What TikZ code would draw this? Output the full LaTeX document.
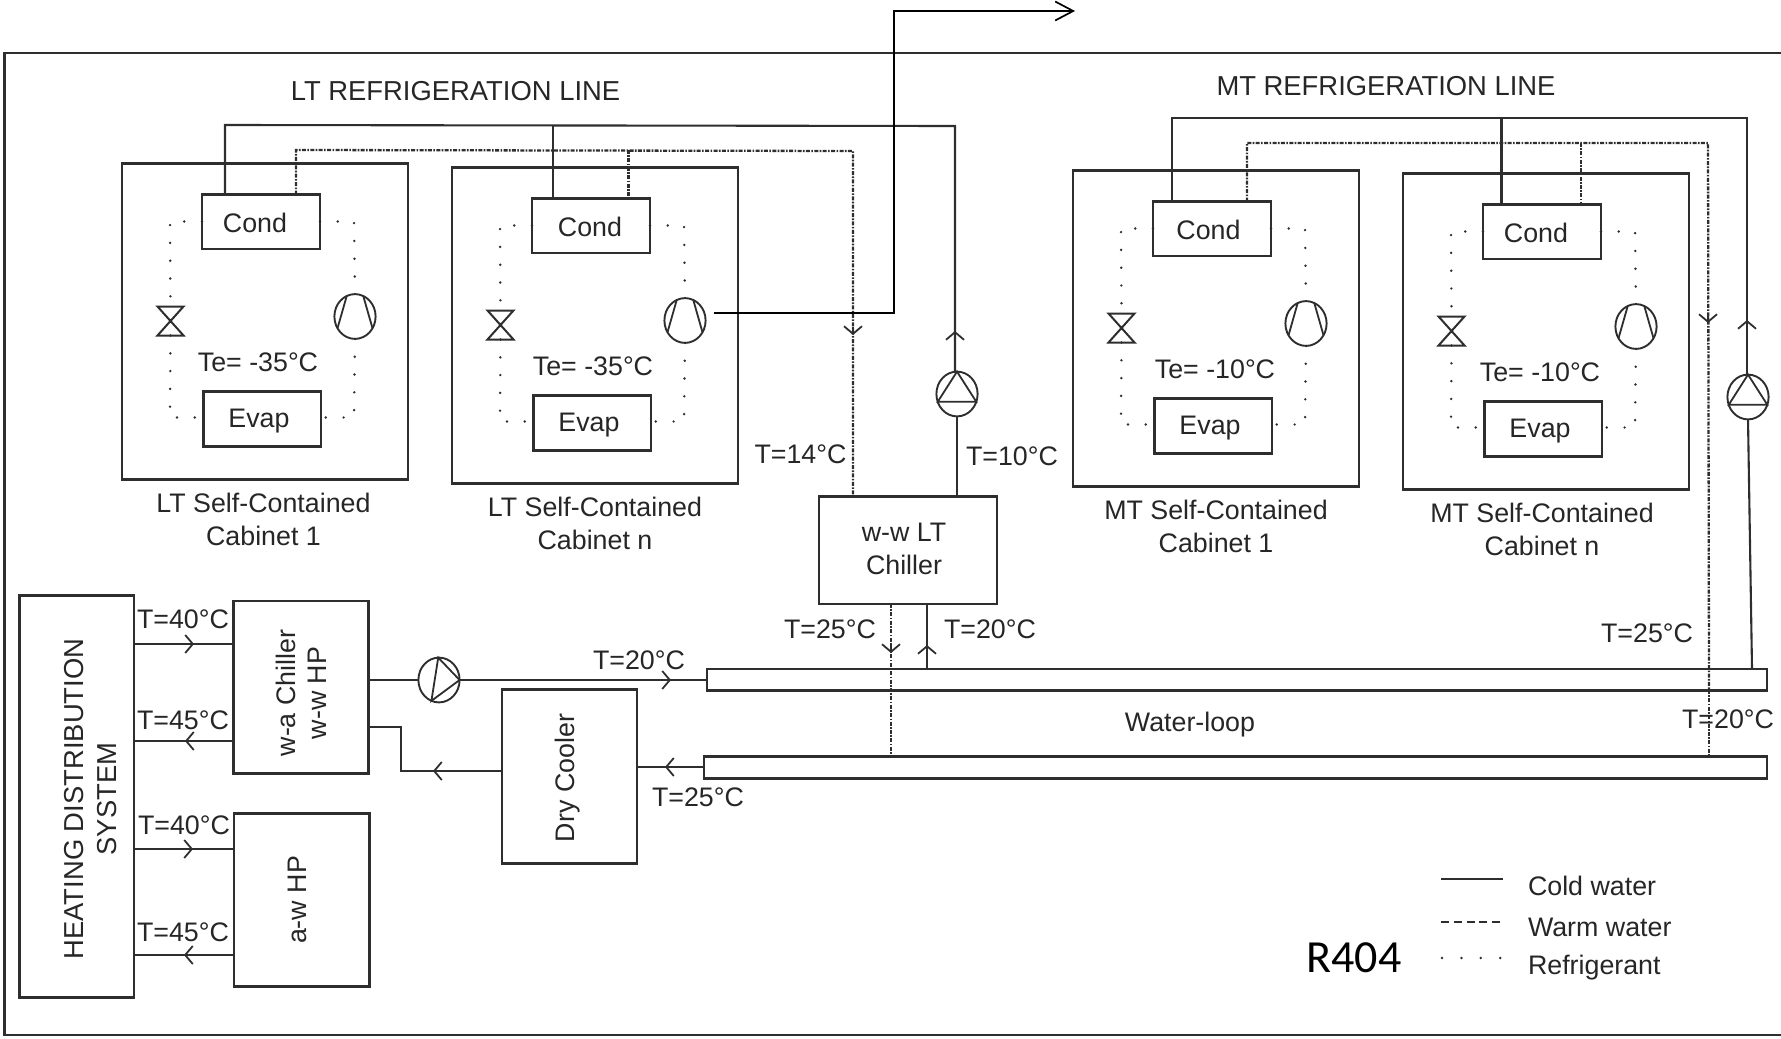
\documentclass[tikz,border=0pt]{standalone}
\usepackage{fontspec}
\setmainfont{Liberation Sans}
\newfontfamily\rfont{Carlito}
\usetikzlibrary{arrows.meta,calc,shapes.geometric}
\definecolor{ink}{HTML}{2E2E2E}
\definecolor{txt}{HTML}{262626}
\tikzset{
  boxst/.style={draw=ink,line width=1.15pt,inner sep=0pt,outer sep=0pt,fill=none},
  symb/.style={ellipse,draw=ink,line width=0.95pt,inner sep=0pt,outer sep=0pt,minimum width=20.6pt,minimum height=22.4pt},
  hold/.style={rectangle,inner sep=0pt,outer sep=0pt,minimum width=13pt,minimum height=14.5pt},
  lbl/.style={inner sep=0pt,outer sep=0pt,text=txt,align=center,yshift=-0.5pt,font=\fontsize{13.4}{16.7}\selectfont},
  bigl/.style={lbl,font=\fontsize{13.7}{16.7}\selectfont},
  pipe/.style={draw=ink,line width=1.05pt,line join=miter},
  warm/.style={draw=ink,line width=1.15pt,dash pattern=on 2pt off 0.7pt on 0.8pt off 0.7pt},
  refr/.style={draw=ink,line width=1.35pt,line cap=round,dash pattern=on 0pt off 8.9pt},
  chev/.style={-{Straight Barb[length=3.8pt,width=9pt,line width=0.9pt]}},
  frameline/.style={draw=ink,line width=1.4pt},
  outline/.style={draw=black,line width=0.95pt,-{Straight Barb[length=9pt,width=9.5pt,line width=0.85pt]}}
}
\newcommand\pxbox[5]{%
  \pgfmathsetmacro\bwid{(#4-#2)*0.5}\pgfmathsetmacro\bhei{(#5-#3)*0.5}%
  \node[boxst,minimum width=\bwid pt,minimum height=\bhei pt] (#1) at ({(#2+#4)/2},{(#3+#5)/2}) {};}
% prefix, x, y, Te text, caption, Cond text dx, Te dx, caption dx
\newcommand\cabinetunit[8]{%
\begin{scope}[shift={(#2,#3)}]
  \pxbox{#1cab}{0}{0}{286}{316}
  \pxbox{#1cond}{80}{31}{198}{85.5}
  \pxbox{#1evap}{81.5}{228}{199}{283}
  \node[lbl] (#1condt) at (#6,58) {Cond};
  \node[lbl] (#1evapt) at (137,257) {Evap};
  \node[lbl] (#1tet) at (#7,198) {#4};
  \node[lbl] (#1capt) at (#8,355) {#5};
  \node[symb] (#1comp) at (233,153) {};
  \draw[draw=ink,line width=0.9pt] (#1comp.112) -- (#1comp.214) (#1comp.68) -- (#1comp.-34);
  \node[hold] (#1valve) at (48.5,157.5) {};
  \draw[draw=ink,line width=1pt,line join=miter] (#1valve.north west) -- (#1valve.north east) -- (#1valve.south west) -- (#1valve.south east) -- cycle;
  \draw[refr] (#1cond.west |- 0,58) -- (48,58) -- (#1valve.north);
  \draw[refr] (#1valve.south) -- (48,254) -- (#1evap.west |- 0,254);
  \draw[refr] (#1cond.east |- 0,58) -- (232,58) -- (#1comp.north);
  \draw[refr] (#1comp.south) -- (232,254) -- (#1evap.east |- 0,254);
\end{scope}}
\begin{document}
\begin{tikzpicture}[x=0.5pt,y=-0.5pt]
\useasboundingbox (0,0) rectangle (1781,1038);
% outer frame
\draw[frameline] (1781,53) -- (4.5,53) -- (4.5,1035) -- (1781,1035);
% cabinets
\cabinetunit{la}{122}{163.5}{Te= -35°C}{LT Self-Contained\\Cabinet 1}{133}{136}{141.5}
\cabinetunit{lb}{452}{167.5}{Te= -35°C}{LT Self-Contained\\Cabinet n}{138}{141}{143}
\cabinetunit{ma}{1073}{170.5}{Te= -10°C}{MT Self-Contained\\Cabinet 1}{135.5}{142}{143}
\cabinetunit{mb}{1403}{173.5}{Te= -10°C}{MT Self-Contained\\Cabinet n}{133}{137}{139}
% titles
\node[bigl] (lttitle) at (455.5,90) {LT REFRIGERATION LINE};
\node[bigl] (mttitle) at (1386,85) {MT REFRIGERATION LINE};
% main boxes
\pxbox{chiller}{819}{496.5}{997}{604}
\node[lbl] (chillert) at (904,548) {w-w LT\\Chiller};
\pxbox{hds}{19.5}{595.5}{134}{997.5}
\node[bigl,rotate=90] (hdst) at (90.5,798) {HEATING DISTRIBUTION\\SYSTEM};
\pxbox{hpa}{233.5}{601}{368.5}{773.5}
\node[lbl,rotate=90,font=\fontsize{13.4}{15.3}\selectfont] (hpat) at (301.5,692) {w-a Chiller\\w-w HP};
\pxbox{hpb}{234}{813.5}{369.5}{986.5}
\node[lbl,rotate=90] (hpbt) at (297.5,899) {a-w HP};
\pxbox{dry}{502}{689.5}{637}{863.5}
\node[lbl,rotate=90] (dryt) at (568,777) {Dry Cooler};
\pxbox{loopa}{707}{669}{1767}{690.5}
\pxbox{loopb}{704}{756.5}{1767}{778.5}
\node[lbl] (loopt) at (1190,724) {Water-loop};
% pumps
\node[symb] (pumpa) at (957,394) {};
\draw[draw=ink,line width=0.9pt] (pumpa.90) -- (pumpa.-22) -- (pumpa.202) -- cycle;
\node[symb] (pumpb) at (1748,397) {};
\draw[draw=ink,line width=0.9pt] (pumpb.90) -- (pumpb.-22) -- (pumpb.202) -- cycle;
\node[symb] (pumpc) at (439,680) {};
\draw[draw=ink,line width=0.9pt] (pumpc.0) -- (pumpc.92) -- (pumpc.250) -- cycle;
% LT cold line
\coordinate (lca) at (225,125);
\coordinate (lcb) at (955,126);
\coordinate (lcc) at (553,125);
\coordinate (lctip) at (955,331);
\draw[pipe] (lca |- lacond.north) -- (lca) -- (lcb) -- (lcb |- pumpa.north);
\draw[pipe] (lcc) -- (lcc |- lbcond.north);
\draw[pipe,chev] (lcb |- pumpa.north) -- (lctip);
\draw[pipe] (pumpa.south) -- (pumpa.south |- chiller.north);
% LT warm line
\coordinate (lwa) at (296,150);
\coordinate (lwb) at (853,151);
\coordinate (lwc) at (628.5,150);
\coordinate (lwtip) at (853,335);
\draw[warm] (lwa |- lacond.north) -- (lwa) -- (lwb) -- (lwb |- chiller.north);
\draw[warm] (lwc) -- (lwc |- lbcond.north);
\draw[pipe,chev] (853,327) -- (lwtip);
% MT cold line
\coordinate (mca) at (1172,118);
\coordinate (mcb) at (1747,118);
\coordinate (mcc) at (1501.5,118);
\coordinate (mctip) at (1747,320);
\coordinate (mcd) at (1752,669);
\draw[pipe] (mca |- macond.north) -- (mca) -- (mcb) -- (mcb |- pumpb.north);
\draw[pipe] (mcc) -- (mcc |- mbcond.north);
\draw[pipe,chev] (mcb |- pumpb.north) -- (mctip);
\draw[pipe] (pumpb.south) -- (mcd);
% MT warm line
\coordinate (mwa) at (1247,143);
\coordinate (mwb) at (1708,143);
\coordinate (mwc) at (1581,143);
\coordinate (mwtip) at (1708,323);
\draw[warm] (mwa |- macond.north) -- (mwa) -- (mwb) -- (1709,690);
\draw[warm,line width=0.85pt] (1709,690) -- (1709,756);
\draw[warm] (mwc) -- (mwc |- mbcond.north);
\draw[pipe,chev] (1708,315) -- (mwtip);
% chiller to loop
\coordinate (cwa) at (891,604);
\coordinate (cwtip) at (891,653);
\coordinate (cca) at (927,604);
\coordinate (cctip) at (927,645);
\draw[warm,line width=0.9pt] (cwa) -- (cwa |- loopb.north);
\draw[pipe,chev] (891,645) -- (cwtip);
\draw[pipe] (cca |- loopa.north) -- (cca);
\draw[pipe,chev] (cca |- loopa.north) -- (cctip);
% output line
\coordinate (outa) at (714,313);
\coordinate (outb) at (894,313);
\coordinate (outc) at (894,11);
\coordinate (outd) at (1075,11);
\draw[outline] (outa) -- (outb) -- (outc) -- (outd);
% heating connections
\coordinate (hra) at (194,644);
\coordinate (hrb) at (185,741);
\coordinate (hrc) at (193,849);
\coordinate (hrd) at (184,955);
\draw[pipe] (hds.east |- hra) -- (hpa.west |- hra);
\draw[pipe,chev] (hds.east |- hra) -- (hra);
\draw[pipe] (hpa.west |- hrb) -- (hds.east |- hrb);
\draw[pipe,chev] (hpa.west |- hrb) -- (hrb);
\draw[pipe] (hds.east |- hrc) -- (hpb.west |- hrc);
\draw[pipe,chev] (hds.east |- hrc) -- (hrc);
\draw[pipe] (hpb.west |- hrd) -- (hds.east |- hrd);
\draw[pipe,chev] (hpb.west |- hrd) -- (hrd);
% water loop connections
\coordinate (wla) at (671,680);
\coordinate (wlb) at (665,767);
\coordinate (wlc) at (433,771);
\coordinate (wld) at (401,771);
\coordinate (wle) at (401,727);
\draw[pipe] (hpa.east |- pumpc) -- (pumpc.west);
\draw[pipe] (pumpc.east) -- (loopa.west |- pumpc);
\draw[pipe,chev] (pumpc.east) -- (wla);
\draw[pipe] (loopb.west |- wlb) -- (dry.east |- wlb);
\draw[pipe,chev] (loopb.west |- wlb) -- (wlb);
\draw[pipe] (dry.west |- wlc) -- (wld) -- (wle) -- (hpa.east |- wle);
\draw[pipe,chev] (dry.west |- wlc) -- (wlc);
% temperature labels
\node[lbl] (ta) at (800.5,453) {T=14°C};
\node[lbl] (tb) at (1012,455) {T=10°C};
\node[lbl] (tc) at (830,628) {T=25°C};
\node[lbl] (td) at (990,628) {T=20°C};
\node[lbl] (te) at (1647,632) {T=25°C};
\node[lbl] (tf) at (1728,718) {T=20°C};
\node[lbl] (tg) at (183,618) {T=40°C};
\node[lbl] (th) at (183,719) {T=45°C};
\node[lbl] (ti) at (184,824) {T=40°C};
\node[lbl] (tj) at (183,931) {T=45°C};
\node[lbl] (tk) at (639,659) {T=20°C};
\node[lbl] (tl) at (698,796) {T=25°C};
% legend
\coordinate (lega) at (1441,879);
\coordinate (legb) at (1503,879);
\coordinate (legc) at (1441,922);
\coordinate (legd) at (1503,922);
\coordinate (lege) at (1442,958);
\coordinate (legf) at (1503,958);
\draw[pipe] (lega) -- (legb);
\draw[draw=ink,line width=1.1pt,dash pattern=on 4pt off 2.4pt] (legc) -- (legd);
\draw[draw=ink,line width=1.35pt,line cap=round,dash pattern=on 0pt off 9.7pt] (lege) -- (legf);
\node[lbl,anchor=base west] (lgt) at (1528,894) {Cold water};
\node[lbl,anchor=base west] (lgu) at (1528,935) {Warm water};
\node[lbl,anchor=base west] (lgv) at (1528,973) {Refrigerant};
\node[inner sep=0pt,text=black,font=\rfont\fontsize{23}{27}\selectfont] (rfour) at (1354,958) {R404};
\end{tikzpicture}
\end{document}
